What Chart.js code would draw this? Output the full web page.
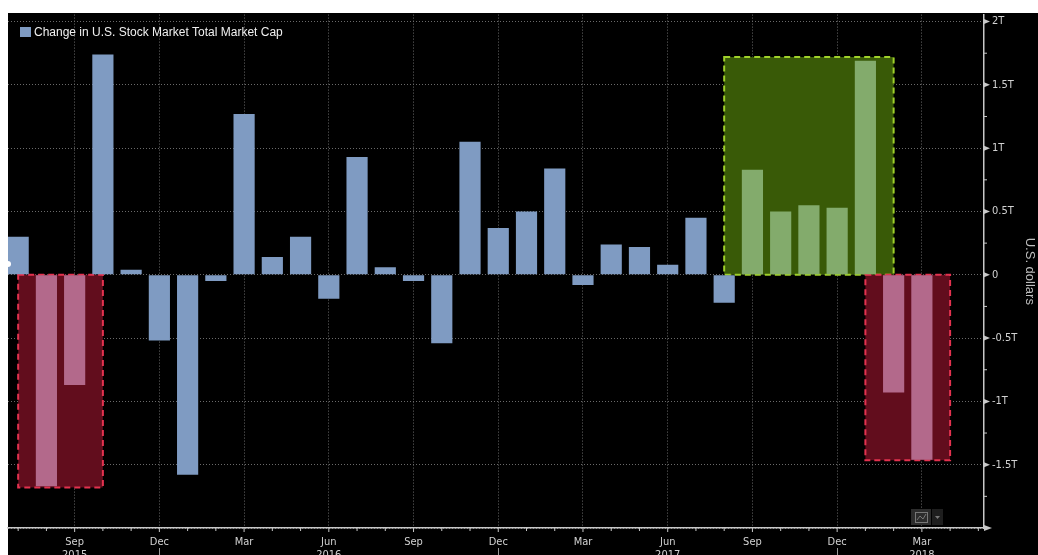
<!DOCTYPE html>
<html>
<head>
<meta charset="utf-8">
<title>Change in U.S. Stock Market Total Market Cap</title>
<script src="https://cdn.jsdelivr.net/npm/chart.js@4.4.1/dist/chart.umd.min.js"></script>
<style>
  html, body { margin: 0; padding: 0; background: #fff; }
  #chart { display: block; }
</style>
</head>
<body>
<canvas id="chart" width="1038" height="555"></canvas>
<script>
// monthly bars, Jul 2015 .. Mar 2018
const monthLabels = ['Jul', 'Aug', 'Sep', 'Oct', 'Nov', 'Dec',
  'Jan', 'Feb', 'Mar', 'Apr', 'May', 'Jun', 'Jul', 'Aug', 'Sep', 'Oct', 'Nov', 'Dec',
  'Jan', 'Feb', 'Mar', 'Apr', 'May', 'Jun', 'Jul', 'Aug', 'Sep', 'Oct', 'Nov', 'Dec',
  'Jan', 'Feb', 'Mar'];
// change in total market cap, trillions of U.S. dollars
const capChange = [0.30, -1.67, -0.87, 1.74, 0.04, -0.52,
  -1.58, -0.05, 1.27, 0.14, 0.30, -0.19, 0.93, 0.06, -0.05, -0.54, 1.05, 0.37,
  0.50, 0.84, -0.08, 0.24, 0.22, 0.08, 0.45, -0.22, 0.83, 0.50, 0.55, 0.53,
  1.69, -0.93, -1.46];

const quarterTicks = [2, 5, 8, 11, 14, 17, 20, 23, 26, 29, 32];
const yearTickIndex = [2, 11, 23, 32];
const yearTickText = ['2015', '2016', '2017', '2018'];
const yearBreaks = [5, 17, 29];

const yTicks = [-2, -1.5, -1, -0.5, 0, 0.5, 1, 1.5, 2];

// highlight boxes (month index span, value span)
const boxFrom = [0, 25, 30];
const boxTo = [3, 31, 33];
const boxTop = [0, 1.72, 0];
const boxBottom = [-1.68, 0, -1.465];
const boxKind = ['down', 'up', 'down'];

const seriesName = 'Change in U.S. Stock Market Total Market Cap';

const COLORS = {
  bar: '#7f9bc2',
  downBar: '#b3698b',
  upBar: '#83ab6c',
  downFill: '#620d1d',
  upFill: '#395a07',
  downLine: '#e3324f',
  upLine: '#9fd02a',
  grid: '#6a6a6a',
  axis: '#c8c8c8',
  text: '#d2d2d2'
};

function boxFor(i) {
  for (let b = 0; b < boxFrom.length; b++) {
    if (i > boxFrom[b] && i < boxTo[b]) {
      const v = capChange[i];
      if ((boxKind[b] === 'up' && v >= 0) || (boxKind[b] === 'down' && v < 0)) return boxKind[b];
    }
  }
  return null;
}

const barColors = capChange.map((v, i) => {
  const k = boxFor(i);
  if (k === 'up') return COLORS.upBar;
  if (k === 'down') return COLORS.downBar;
  return COLORS.bar;
});

const panelPlugin = {
  id: 'panel',
  beforeDraw(chart) {
    const ctx = chart.ctx;
    ctx.save();
    ctx.fillStyle = '#fff';
    ctx.fillRect(0, 0, chart.width, chart.height);
    ctx.fillStyle = '#000';
    ctx.fillRect(8, 13, chart.width - 8, chart.height - 13);
    ctx.restore();
  }
};

const boxPlugin = {
  id: 'boxes',
  beforeDatasetsDraw(chart) {
    const { ctx, chartArea, scales: { x, y } } = chart;
    ctx.save();
    ctx.beginPath();
    ctx.rect(chartArea.left, chartArea.top, chartArea.right - chartArea.left, chartArea.bottom - chartArea.top);
    ctx.clip();
    for (let b = 0; b < boxFrom.length; b++) {
      const x0 = x.getPixelForValue(boxFrom[b]);
      const x1 = x.getPixelForValue(boxTo[b]);
      const y0 = y.getPixelForValue(boxTop[b]);
      const y1 = y.getPixelForValue(boxBottom[b]);
      const up = boxKind[b] === 'up';
      ctx.fillStyle = up ? COLORS.upFill : COLORS.downFill;
      ctx.fillRect(x0, y0, x1 - x0, y1 - y0);
      ctx.strokeStyle = up ? COLORS.upLine : COLORS.downLine;
      ctx.lineWidth = 2;
      ctx.setLineDash([6, 4]);
      ctx.strokeRect(x0, y0, x1 - x0, y1 - y0);
    }
    ctx.restore();
  }
};

const decorPlugin = {
  id: 'decor',
  afterDraw(chart) {
    const { ctx, chartArea, scales: { x, y } } = chart;
    const right = chartArea.right;
    const bottom = chartArea.bottom;
    ctx.save();
    ctx.fillStyle = COLORS.axis;
    ctx.strokeStyle = COLORS.axis;
    ctx.lineWidth = 1;

    // y major tick markers + minor ticks
    yTicks.forEach(v => {
      const py = y.getPixelForValue(v);
      if (v > -2) {
        ctx.beginPath();
        ctx.moveTo(right, py - 2.5);
        ctx.lineTo(right + 6, py);
        ctx.lineTo(right, py + 2.5);
        ctx.closePath();
        ctx.fill();
      }
      if (v < 2) {
        const pm = y.getPixelForValue(v + 0.25);
        ctx.beginPath();
        ctx.moveTo(right, pm);
        ctx.lineTo(right + 3, pm);
        ctx.stroke();
      }
    });

    // x minor ticks every month
    for (let i = 0; i <= 34; i++) {
      const px = x.getPixelForValue(i);
      if (px > right) break;
      ctx.beginPath();
      ctx.moveTo(px, bottom);
      ctx.lineTo(px, bottom + (quarterTicks.includes(i) ? 4 : 3));
      ctx.stroke();
    }

    // x axis arrow
    ctx.beginPath();
    ctx.moveTo(right, bottom - 3);
    ctx.lineTo(right + 8, bottom);
    ctx.lineTo(right, bottom + 3);
    ctx.closePath();
    ctx.fill();

    // year separators below the labels
    ctx.strokeStyle = '#9a9a9a';
    yearBreaks.forEach(i => {
      const px = Math.round(x.getPixelForValue(i)) + 0.5;
      ctx.beginPath();
      ctx.moveTo(px, bottom + 20);
      ctx.lineTo(px, chart.height);
      ctx.stroke();
    });

    // legend
    ctx.fillStyle = COLORS.bar;
    ctx.fillRect(20, 27, 11, 10);
    ctx.fillStyle = '#f0f0f0';
    ctx.font = '12px "Liberation Sans", Arial, sans-serif';
    ctx.textBaseline = 'middle';
    ctx.fillText(seriesName, 34, 32.5);

    // small chart-type button in the corner
    ctx.fillStyle = '#2c2c2c';
    ctx.fillRect(911, 509, 20, 16);
    ctx.fillStyle = '#1e1e1e';
    ctx.fillRect(932, 509, 11, 16);
    ctx.strokeStyle = '#777';
    ctx.strokeRect(915.5, 512.5, 12, 10);
    ctx.beginPath();
    ctx.moveTo(917, 520);
    ctx.lineTo(920, 516);
    ctx.lineTo(923, 519);
    ctx.lineTo(926, 514);
    ctx.stroke();
    ctx.fillStyle = '#777';
    ctx.beginPath();
    ctx.moveTo(935, 516);
    ctx.lineTo(940, 516);
    ctx.lineTo(937.5, 519);
    ctx.closePath();
    ctx.fill();

    // marker on left edge
    ctx.fillStyle = '#fff';
    ctx.beginPath();
    ctx.arc(8, 264, 3, 0, Math.PI * 2);
    ctx.fill();
    ctx.restore();
  }
};

new Chart(document.getElementById('chart'), {
  type: 'bar',
  data: {
    datasets: [{
      label: seriesName,
      data: capChange.map((v, i) => ({ x: i, y: v })),
      backgroundColor: barColors,
      borderWidth: 0,
      categoryPercentage: 1,
      barPercentage: 0.75
    }]
  },
  options: {
    responsive: false,
    animation: false,
    devicePixelRatio: 1,
    layout: { padding: { left: 8, top: 13, right: 0, bottom: 0 } },
    plugins: {
      legend: { display: false },
      tooltip: { enabled: false }
    },
    scales: {
      x: {
        type: 'linear',
        offset: false,
        min: -0.36,
        max: 34.2,
        afterFit(scale) { scale.height = 27; },
        afterBuildTicks(scale) {
          scale.ticks = quarterTicks.map(v => ({ value: v }));
        },
        grid: {
          offset: false,
          color: COLORS.grid,
          drawTicks: false,
          lineWidth: 1
        },
        border: { color: COLORS.axis, width: 1.5, dash: [1, 2] },
        ticks: {
          autoSkip: false,
          maxRotation: 0,
          padding: 8,
          color: COLORS.text,
          font: { family: '"DejaVu Sans Condensed", "DejaVu Sans", sans-serif', size: 11, lineHeight: 1.15 },
          callback(value) {
            const m = monthLabels[value] || '';
            const yi = yearTickIndex.indexOf(value);
            return yi >= 0 ? [m, yearTickText[yi]] : m;
          }
        }
      },
      y: {
        position: 'right',
        min: -2,
        max: 2.055,
        afterFit(scale) { scale.width = 54; },
        afterBuildTicks(scale) {
          scale.ticks = yTicks.map(v => ({ value: v }));
        },
        grid: {
          color: COLORS.grid,
          drawTicks: false,
          lineWidth: 1
        },
        border: { color: COLORS.axis, width: 1.5, dash: [1, 2] },
        ticks: {
          padding: 8,
          color: COLORS.text,
          font: { family: '"DejaVu Sans Condensed", "DejaVu Sans", sans-serif', size: 11 },
          callback(value) {
            if (value === -2) return '';
            return value === 0 ? '0' : value + 'T';
          }
        },
        title: {
          display: true,
          text: 'U.S. dollars',
          color: '#bdbdbd',
          padding: { top: 1, bottom: 0 },
          font: { family: '"Liberation Sans", Arial, sans-serif', size: 13 }
        }
      }
    }
  },
  plugins: [panelPlugin, boxPlugin, decorPlugin]
});
</script>
</body>
</html>
